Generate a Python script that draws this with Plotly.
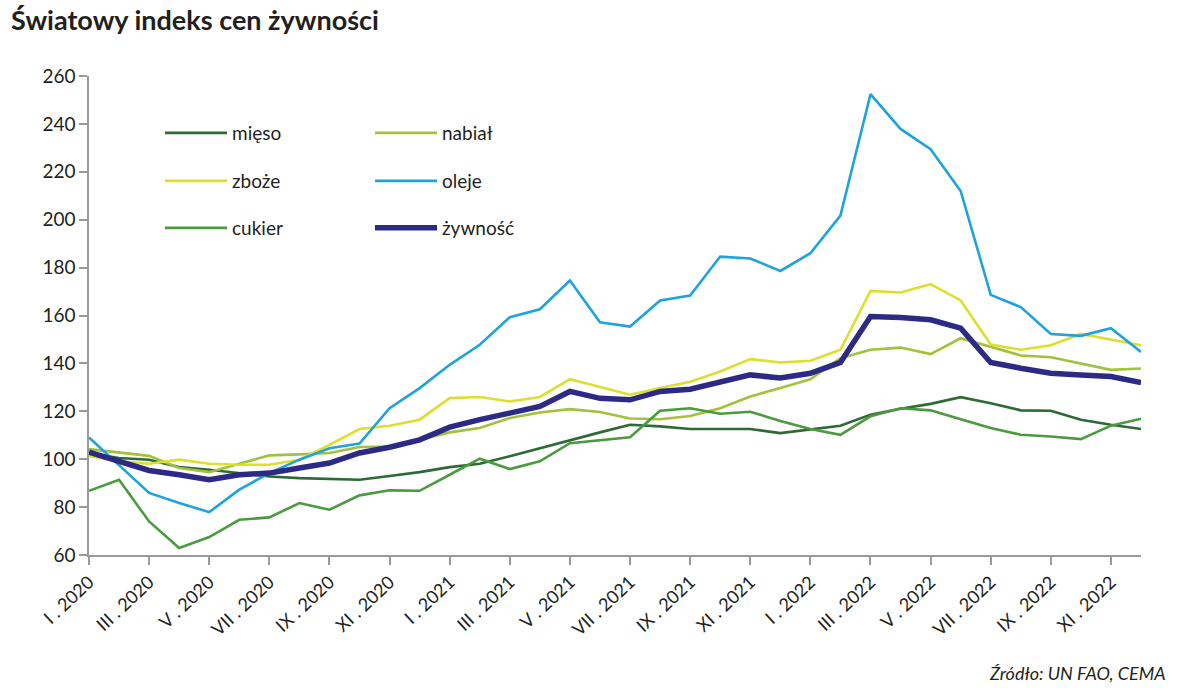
import plotly.graph_objects as go

months = list(range(36))
tick_idx = list(range(0, 36, 2))
tick_labels = ["I . 2020", "III . 2020", "V . 2020", "VII . 2020", "IX . 2020", "XI . 2020",
               "I . 2021", "III . 2021", "V . 2021", "VII . 2021", "IX . 2021", "XI . 2021",
               "I . 2022", "III . 2022", "V . 2022", "VII . 2022", "IX . 2022", "XI . 2022"]

mieso = [102.6, 100.5, 99.8, 96.7, 95.6, 94.2, 92.8, 92.1, 91.8, 91.4, 93.0, 94.6,
         96.7, 98.1, 101.2, 104.6, 108.1, 111.2, 114.4, 113.7, 112.6, 112.6, 112.6, 110.9,
         112.3, 114.0, 118.6, 121.1, 123.1, 125.9, 123.4, 120.4, 120.2, 116.5, 114.4, 112.6]
nabial = [104.2, 102.8, 101.4, 96.3, 94.6, 98.1, 101.6, 102.0, 102.6, 105.1, 105.3, 108.1,
          111.2, 113.0, 117.2, 119.5, 120.9, 119.7, 117.0, 116.7, 118.0, 121.3, 126.2, 129.7,
          133.4, 142.2, 145.7, 146.6, 143.9, 150.5, 147.0, 143.3, 142.6, 140.1, 137.3, 137.9]
zboze = [101.4, 99.1, 98.1, 99.8, 98.1, 97.7, 97.7, 99.8, 106.0, 112.6, 114.0, 116.5,
         125.5, 126.0, 124.1, 126.0, 133.4, 130.0, 126.9, 129.7, 132.3, 136.6, 141.8, 140.4,
         141.1, 145.7, 170.3, 169.6, 173.1, 166.3, 147.9, 145.7, 147.6, 152.3, 150.1, 147.6]
oleje = [109.1, 97.5, 85.9, 81.7, 77.9, 87.3, 94.2, 99.8, 104.6, 106.5, 121.3, 129.7,
         139.4, 147.8, 159.3, 162.6, 174.6, 157.2, 155.4, 166.3, 168.3, 184.6, 183.8, 178.6,
         186.0, 201.7, 252.4, 237.9, 229.4, 212.0, 168.6, 163.5, 152.3, 151.5, 154.7, 144.8]
cukier = [86.8, 91.4, 74.0, 62.9, 67.5, 74.7, 75.7, 81.7, 78.9, 84.9, 87.0, 86.8,
          93.5, 100.2, 95.9, 99.1, 106.7, 107.8, 109.2, 120.2, 121.3, 119.0, 119.8, 116.0,
          112.6, 110.2, 117.9, 121.3, 120.4, 116.7, 113.0, 110.2, 109.5, 108.4, 114.0, 116.9]
zywnosc = [103.0, 99.1, 95.3, 93.5, 91.4, 93.5, 94.2, 96.3, 98.4, 102.6, 105.0, 108.1,
           113.4, 116.5, 119.5, 122.0, 128.3, 125.4, 124.8, 128.3, 129.2, 132.0, 135.2, 133.9,
           135.9, 140.4, 159.6, 159.2, 158.2, 154.7, 140.4, 138.0, 135.9, 135.2, 134.5, 132.0]

FONT = "Lato"
TXT = "#231f20"

series = [
    ("mięso", mieso, "#2d6a35", 2.6, "legend"),
    ("nabiał", nabial, "#a2c23c", 2.6, "legend"),
    ("zboże", zboze, "#dcdf2e", 2.6, "legend2"),
    ("oleje", oleje, "#1fa3dd", 2.6, "legend2"),
    ("cukier", cukier, "#4b9a40", 2.6, "legend3"),
    ("żywność", zywnosc, "#2c2a85", 5.5, "legend3"),
]

fig = go.Figure()
for name, vals, col, w, lg in series:
    fig.add_trace(go.Scatter(x=months, y=vals, mode="lines", name=name,
                             line=dict(color=col, width=w), legend=lg))

L, T, PW, PH = 89, 76, 1052, 479

def leg(ypx):
    return dict(orientation="h", x=(160 - L) / PW, y=(T + PH - ypx) / PH,
                xanchor="left", yanchor="middle", entrywidth=133, entrywidthmode="pixels",
                itemwidth=62, bgcolor="rgba(0,0,0,0)", borderwidth=0,
                font=dict(family=FONT, size=19, color=TXT), traceorder="normal")

fig.update_layout(
    width=1180, height=697,
    margin=dict(l=L, r=1180 - L - PW, t=T, b=697 - T - PH, autoexpand=False),
    paper_bgcolor="white", plot_bgcolor="white",
    showlegend=True,
    legend=leg(133),
    legend2=leg(181),
    legend3=leg(228),
    xaxis=dict(range=[0, 35], tickmode="array", tickvals=tick_idx, ticktext=tick_labels,
               tickangle=-43, ticks="outside", ticklen=8, tickcolor="#9a9a9a", tickwidth=1.5,
               showline=True, linecolor="#9a9a9a", linewidth=1.5, showgrid=False, zeroline=False,
               tickfont=dict(family=FONT, size=18, color=TXT)),
    yaxis=dict(range=[60, 260], dtick=20, tick0=60, ticks="outside", ticklen=8,
               tickcolor="#9a9a9a", tickwidth=1.5, showline=True, linecolor="#9a9a9a",
               linewidth=1.5, showgrid=False, zeroline=False,
               tickfont=dict(family=FONT, size=19, color=TXT)),
    annotations=[
        dict(text="<b>Światowy indeks cen żywności</b>", xref="paper", yref="paper",
             x=(9 - L) / PW, y=1 + (T - 19) / PH, xanchor="left", yanchor="middle",
             showarrow=False, font=dict(family=FONT, size=27, color=TXT)),
        dict(text="<i>Źródło: UN FAO, CEMA</i>", xref="paper", yref="paper",
             x=(1168 - L) / PW, y=-(673 - T - PH) / PH, xanchor="right", yanchor="middle",
             showarrow=False, font=dict(family=FONT, size=18, color=TXT)),
    ],
)

fig.write_html("out.html")
